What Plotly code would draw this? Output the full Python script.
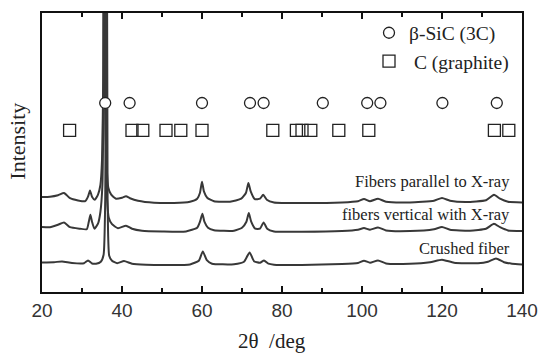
import plotly.graph_objects as go

# ---- data (2theta in deg, intensity in arbitrary units) ----
par_x = [20, 22, 24, 25.5, 27, 29, 30.8, 31.5, 32, 32.5, 33.2, 34.0, 34.6, 35.0, 35.3, 35.55, 35.8, 36.1, 36.6, 37.3,
         38.5, 40, 41, 42, 44, 48, 53, 57, 58.8, 59.5, 60, 60.5, 61.3, 63, 67, 69.8, 71, 71.6, 72.2, 73.2,
         74.5, 75.3, 76.2, 78, 85, 95, 99, 100.5, 102, 104, 106, 112, 118, 120, 122, 126, 131, 133, 134.5, 136.5, 140]
par_y = [95, 95.3, 96.8, 99, 93.8, 91.6, 90.8, 95.3, 101.6, 95.3, 92.3, 97.3, 107, 132, 212, 700, 212, 132, 104, 97.3,
         93.3, 94.3, 95.8, 93.8, 91.3, 89.3, 89, 90.3, 93.3, 99.3, 110.3, 100.3, 94.3, 90.8, 90.3, 93.3, 99.3, 109, 100.3, 92.8,
         93.3, 97.3, 92.3, 89.6, 89, 89.6, 90.8, 93, 90.8, 93.3, 90.3, 89.6, 91.3, 94, 91.3, 90, 91.8, 97.3, 93.3, 90.3, 89.6]

ver_x = [20, 22, 24, 25.5, 27, 29.5, 31.2, 31.7, 32.1, 32.5, 33.1, 34.0, 34.6, 35.1, 35.35, 35.6, 35.85, 36.15, 36.7, 37.5,
         39, 41, 42.5, 45, 50, 56, 58.8, 59.5, 60.1, 60.6, 61.5, 63, 68, 70, 71.1, 71.7, 72.3, 73.3,
         74.5, 75.4, 76.3, 78, 85, 95, 99, 100.5, 102, 104, 106, 112, 118, 120, 122, 127, 131, 133, 134.5, 136.5, 140]
ver_y = [65, 64.8, 67.3, 69.6, 64.8, 63.3, 62.8, 70.3, 77.3, 70.3, 63.3, 68.3, 80, 107, 192, 700, 192, 102, 74.3, 67.8,
         63.8, 66.3, 63.3, 61.3, 60.6, 60.6, 64.3, 70.3, 78.3, 70.3, 64.3, 61.8, 61.3, 64.3, 70.3, 79, 70.3, 63.3,
         63.3, 69.6, 63.3, 60.6, 60.3, 61, 62.3, 64, 62.3, 64.6, 61.6, 61, 62.8, 65, 62.3, 61.3, 63.3, 68.3, 64.8, 61.6, 61]

cru_x = [20, 23, 25, 27.5, 30.5, 31.5, 32.5, 33.5, 34.7, 35.4, 35.8, 36.1, 36.4, 36.8, 37.5, 38.8, 40.5, 42.5, 46, 52,
         57, 59.2, 60.2, 61.2, 62.5, 68, 70.5, 71.9, 73, 74.5, 75.5, 76.6, 78, 85, 95, 99, 100.5, 102, 104, 106,
         112, 117, 120, 123, 129, 131.5, 133.5, 135.5, 137.5, 140]
cru_y = [29.6, 29.8, 30.6, 29, 28.8, 31.6, 28.5, 28.3, 30.3, 37.3, 92, 700, 92, 36.3, 31.3, 28.8, 31, 28.3, 27.3, 27,
         27.6, 31.3, 40.6, 31.8, 28.3, 27.8, 30.3, 39.6, 30.8, 29.3, 31.6, 28.3, 27.3, 27, 28, 29.1, 31.3, 29.3, 31.6, 28.6,
         28.3, 29.8, 32.3, 29.3, 28.8, 30.3, 33.6, 29.8, 28.3, 27.6]

sic_x = [35.8, 41.9, 60.0, 72.0, 75.4, 90.2, 101.3, 104.6, 120.1, 133.7]
sic_level = 189
gra_x = [26.9, 42.5, 45.2, 51.0, 54.7, 60.0, 77.7, 83.6, 85.0, 87.2, 94.2, 101.7, 133.1, 136.7]
gra_level = 161.6

curve_labels = ["Fibers parallel to X-ray", "fibers vertical with X-ray", "Crushed fiber"]
curve_label_y = [110.3, 77.3, 43.3]

x_ticks = [20, 40, 60, 80, 100, 120, 140]

LINE = "#383838"
SERIF = "Liberation Serif"

fig = go.Figure()
for xs, ys, nm in [(par_x, par_y, curve_labels[0]), (ver_x, ver_y, curve_labels[1]), (cru_x, cru_y, curve_labels[2])]:
    fig.add_trace(go.Scatter(x=xs, y=ys, mode="lines", name=nm, showlegend=False,
                             line=dict(color=LINE, width=2, shape="spline", smoothing=0.5)))

fig.add_trace(go.Scatter(x=sic_x, y=[sic_level] * len(sic_x), mode="markers", name="β-SiC (3C)",
                         marker=dict(symbol="circle", size=11, color="white", line=dict(color="#222", width=1.3))))
fig.add_trace(go.Scatter(x=gra_x, y=[gra_level] * len(gra_x), mode="markers", name=" C (graphite)",
                         marker=dict(symbol="square-open", size=12, color="#222", line=dict(width=1.3))))

for txt, yy in zip(curve_labels, curve_label_y):
    fig.add_annotation(x=137.5, y=yy, xref="x", yref="y", text=txt, showarrow=False,
                       xanchor="right", yanchor="middle", font=dict(family=SERIF, size=16.5, color="#222"))

fig.add_annotation(x=(272 - 42) / 480, y=-(341.7 - 292.3) / 279, xref="paper", yref="paper", text="2θ  /deg",
                   showarrow=False, xanchor="center", yanchor="middle", font=dict(family=SERIF, size=21, color="#222"))
fig.add_annotation(x=-(42 - 18) / 480, y=(292.3 - 142) / 279, xref="paper", yref="paper", text="Intensity",
                   showarrow=False, xanchor="center", yanchor="middle", textangle=-90,
                   font=dict(family=SERIF, size=22, color="#222"))

fig.update_layout(
    width=542, height=353,
    margin=dict(l=42, r=20, t=13, b=61),
    paper_bgcolor="white", plot_bgcolor="white",
    showlegend=True,
    legend=dict(x=(369 - 42) / 480, y=0.998, xanchor="left", yanchor="top",
                bgcolor="rgba(0,0,0,0)", font=dict(family=SERIF, size=19.5, color="#222"),
                itemsizing="trace"),
    xaxis=dict(range=[20, 140], tickvals=x_ticks, ticks="inside", ticklen=6, tickwidth=2,
               tickcolor="#111", showline=True, linewidth=2.2, linecolor="#111", mirror="allticks",
               showgrid=False, zeroline=False, automargin=False,
               minor=dict(tickvals=[30, 50, 70, 90, 110, 130], ticks="inside", ticklen=3.5, tickwidth=2,
                          tickcolor="#111", showgrid=False),
               tickfont=dict(family="Liberation Sans", size=19, color="#333")),
    yaxis=dict(range=[0, 279], showticklabels=False, ticks="", showline=True, linewidth=2.2,
               linecolor="#111", mirror=True, showgrid=False, zeroline=False, automargin=False),
)

fig.write_html("out.html")
